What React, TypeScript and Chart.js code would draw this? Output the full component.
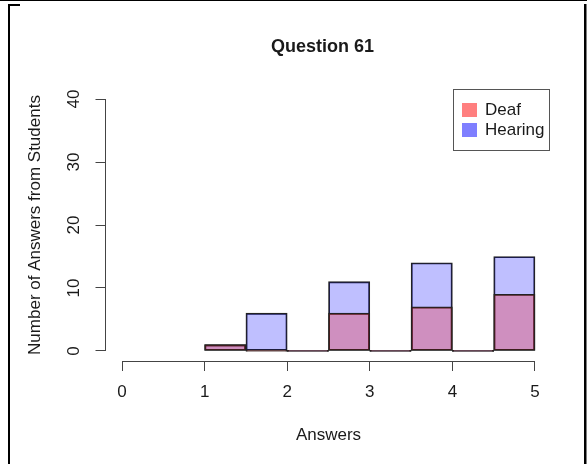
import React, { useEffect, useRef } from "react";
import { Chart, registerables } from "chart.js";

Chart.register(...registerables);

// ---- data ----
const binCenters = [1.25, 1.75, 2.25, 2.75, 3.25, 3.75, 4.25, 4.75];
const deafCounts = [1, 0, 0, 6, 0, 7, 0, 9];
const hearingCounts = [1, 6, 0, 11, 0, 14, 0, 15];
const xTicks = [0, 1, 2, 3, 4, 5];
const yTicks = [0, 10, 20, 30, 40];
const seriesNames = ["Deaf", "Hearing"];
const titleText = "Question 61";
const xTitle = "Answers";
const yTitle = "Number of Answers from Students";

// ---- styles ----
const FONT = "'Liberation Sans', Arial, Helvetica, sans-serif";
const barFill = ["rgba(255,0,0,0.25)", "rgba(0,0,255,0.25)"];
const legendFill = ["rgba(255,0,0,0.5)", "rgba(0,0,255,0.5)"];
const barBorder = "#222";
const axisColor = "#444";
const textColor = "#1a1a1a";

const align = (v: number) => Math.round(v - 0.5) + 0.5;

const titlePlugin = {
  id: "rTitle",
  afterDraw(chart: any) {
    const { ctx, chartArea } = chart;
    ctx.save();
    ctx.font = `bold 18px ${FONT}`;
    ctx.fillStyle = textColor;
    ctx.textAlign = "center";
    ctx.textBaseline = "middle";
    ctx.fillText(titleText, (chartArea.left + chartArea.right) / 2 - 6, 47);
    ctx.restore();
  },
};

const axisLinePlugin = {
  id: "rAxisLines",
  afterDraw(chart: any) {
    const { ctx } = chart;
    const xs = chart.scales.x;
    const ys = chart.scales.y;
    ctx.save();
    ctx.strokeStyle = axisColor;
    ctx.lineWidth = 1;
    ctx.beginPath();
    const yb = align(xs.top);
    ctx.moveTo(align(xs.getPixelForValue(xTicks[0])), yb);
    ctx.lineTo(align(xs.getPixelForValue(xTicks[xTicks.length - 1])), yb);
    const xl = align(ys.right);
    ctx.moveTo(xl, align(ys.getPixelForValue(yTicks[0])));
    ctx.lineTo(xl, align(ys.getPixelForValue(yTicks[yTicks.length - 1])));
    ctx.stroke();
    ctx.restore();
  },
};

const legendPlugin = {
  id: "rLegend",
  afterDraw(chart: any) {
    const { ctx, chartArea } = chart;
    const w = 96;
    const h = 61;
    const left = Math.round(chartArea.right - 3 - w);
    const top = Math.round(chartArea.top);
    ctx.save();
    ctx.fillStyle = "#fff";
    ctx.fillRect(left, top, w, h);
    ctx.strokeStyle = "#555";
    ctx.lineWidth = 1;
    ctx.strokeRect(left + 0.5, top + 0.5, w, h);
    ctx.font = `17px ${FONT}`;
    ctx.textBaseline = "middle";
    ctx.textAlign = "left";
    chart.data.datasets.forEach((ds: any, i: number) => {
      const rowTop = top + 14 + i * 20;
      ctx.fillStyle = legendFill[i];
      ctx.fillRect(left + 9, rowTop, 15, 14);
      ctx.fillStyle = textColor;
      ctx.fillText(ds.label, left + 32, rowTop + 7.5);
    });
    ctx.restore();
  },
};

const framePlugin = {
  id: "frame",
  beforeDraw(chart: any) {
    const { ctx, width, height } = chart;
    ctx.save();
    ctx.fillStyle = "#fff";
    ctx.fillRect(0, 0, width, height);
    ctx.restore();
  },
  afterDraw(chart: any) {
    const { ctx, width, height } = chart;
    ctx.save();
    ctx.fillStyle = "#000";
    ctx.fillRect(0, 0, width, 1);
    ctx.fillRect(8, 4, 12, 2);
    ctx.fillRect(8, 4, 2, height - 4);
    ctx.fillRect(584, 4, 2.5, height - 4);
    ctx.restore();
  },
};

export default function App() {
  const ref = useRef<HTMLCanvasElement | null>(null);

  useEffect(() => {
    if (!ref.current) return;
    Chart.defaults.font.family = FONT;
    const counts = [deafCounts, hearingCounts];
    const chart = new Chart(ref.current, {
      type: "bar",
      data: {
        datasets: seriesNames.map((name, i) => ({
          label: name,
          data: binCenters.map((x, j) => ({ x, y: counts[i][j] })),
          backgroundColor: barFill[i],
          borderColor: barBorder,
          borderWidth: 1.2,
          borderSkipped: false,
          minBarLength: 1,
          barPercentage: 1,
          categoryPercentage: 1,
          grouped: false,
        })),
      },
      options: {
        animation: false,
        responsive: false,
        maintainAspectRatio: false,
        devicePixelRatio: 1,
        layout: { padding: { left: 0, right: 35.5, top: 89, bottom: 0 } },
        plugins: {
          legend: { display: false },
          tooltip: { enabled: false },
          title: { display: false },
        },
        scales: {
          x: {
            type: "linear",
            min: -0.2,
            max: 5.2,
            offset: false,
            afterBuildTicks: (s: any) => {
              s.ticks = xTicks.map((v) => ({ value: v }));
            },
            afterFit: (s: any) => {
              s.height = 103;
            },
            grid: {
              offset: false,
              drawOnChartArea: false,
              drawTicks: true,
              tickLength: 10,
              color: axisColor,
              lineWidth: 1,
            },
            border: { display: false },
            ticks: {
              padding: 11,
              autoSkip: false,
              maxRotation: 0,
              color: textColor,
              font: { size: 17, family: FONT },
            },
            title: {
              display: true,
              text: xTitle,
              color: textColor,
              font: { size: 17, family: FONT },
              padding: { top: 0, bottom: 18.8 },
            },
          },
          y: {
            type: "linear",
            min: -1.6,
            max: 41.6,
            afterBuildTicks: (s: any) => {
              s.ticks = yTicks.map((v) => ({ value: v }));
            },
            afterFit: (s: any) => {
              s.width = 105.5;
            },
            grid: {
              drawOnChartArea: false,
              drawTicks: true,
              tickLength: 10,
              color: axisColor,
              lineWidth: 1,
            },
            border: { display: false },
            ticks: {
              minRotation: 90,
              maxRotation: 90,
              crossAlign: "center",
              padding: 12,
              color: textColor,
              font: { size: 17, family: FONT },
            },
            title: {
              display: true,
              text: yTitle,
              color: textColor,
              font: { size: 17, family: FONT },
              padding: { top: 24.8, bottom: 0 },
            },
          },
        },
      } as any,
      plugins: [framePlugin, axisLinePlugin, legendPlugin, titlePlugin],
    });
    return () => chart.destroy();
  }, []);

  return (
    <div style={{ position: "fixed", left: 0, top: 0, width: 587, height: 464, background: "#fff" }}>
      <canvas ref={ref} width={587} height={464} style={{ display: "block", width: 587, height: 464 }} />
    </div>
  );
}
